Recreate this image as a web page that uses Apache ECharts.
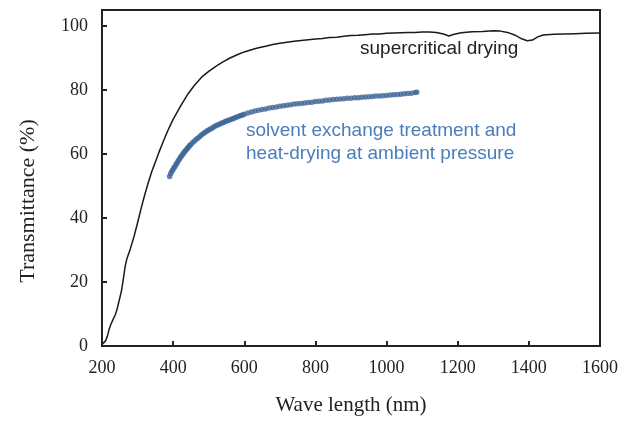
<!DOCTYPE html>
<html>
<head>
<meta charset="utf-8">
<script src="https://cdn.jsdelivr.net/npm/echarts@6/dist/echarts.min.js"></script>
<style>html,body{margin:0;padding:0;background:#fff}#c{width:631px;height:421px}</style>
</head>
<body>
<div id="c"></div>
<script>
var xTicks = [200, 400, 600, 800, 1000, 1200, 1400, 1600];
var yTicks = [0, 20, 40, 60, 80, 100];

var superWave = [200,205,210,215,220,225,230,237,242,246,250,255,260,265,270,280,290,300,310,320,330,340,350,360,370,380,390,400,420,440,460,480,500,520,540,560,580,600,620,640,660,680,700,720,740,760,780,800,820,840,860,880,900,920,940,960,980,1000,1020,1040,1060,1080,1100,1120,1140,1160,1175,1190,1210,1240,1270,1300,1320,1340,1360,1380,1395,1410,1425,1440,1470,1500,1530,1560,1600];
var superVals = [0.5,0.9,1.6,3.0,5.2,6.8,8.0,9.7,11.3,13.2,15.0,17.4,21.0,24.8,27.3,30.5,34.2,38.5,43.0,47.2,51.0,54.5,57.5,60.5,63.3,66.0,68.5,70.8,74.8,78.5,81.5,84.0,85.8,87.4,88.8,90.0,91.0,91.9,92.6,93.2,93.7,94.2,94.6,94.9,95.2,95.5,95.7,95.9,96.1,96.4,96.5,96.8,97.0,97.1,97.3,97.5,97.5,97.7,97.8,97.9,98.0,98.0,98.1,98.1,98.0,97.5,96.9,97.4,97.9,98.2,98.3,98.5,98.4,98.0,97.2,96.0,95.4,95.6,96.6,97.2,97.4,97.5,97.6,97.7,97.8];

var ambWave = [390,393,396,399,402,405,408,411,414,417,420,423,426,429,432,435,438,441,444,447,450,455,460,465,470,475,480,485,490,495,500,505,510,515,520,525,530,535,540,545,550,555,560,565,570,575,580,585,590,595,600,610,620,630,640,650,660,670,680,690,700,710,720,730,740,750,760,770,780,790,800,810,820,830,840,850,860,870,880,890,900,910,920,930,940,950,960,970,980,990,1000,1010,1020,1030,1040,1050,1060,1070,1080,1085];
var ambVals = [53.0,53.8,54.5,55.0,55.6,56.1,56.7,57.2,57.8,58.3,58.9,59.3,59.8,60.2,60.7,61.1,61.5,61.9,62.3,62.7,63.0,63.6,64.1,64.6,65.0,65.5,66.0,66.4,66.8,67.2,67.5,67.8,68.1,68.5,68.8,69.1,69.3,69.6,69.8,70.1,70.3,70.5,70.7,70.9,71.1,71.4,71.6,71.8,72.0,72.2,72.4,72.8,73.1,73.4,73.7,73.9,74.1,74.4,74.5,74.7,74.9,75.1,75.2,75.4,75.6,75.7,75.8,75.9,76.1,76.2,76.4,76.5,76.6,76.8,76.9,77.0,77.1,77.2,77.3,77.4,77.4,77.6,77.6,77.7,77.8,77.9,78.0,78.1,78.1,78.2,78.3,78.4,78.5,78.6,78.7,78.8,78.9,79.0,79.2,79.3];

function pairs(xs, ys) { return xs.map(function (x, i) { return [x, ys[i]]; }); }

var chart = echarts.init(document.getElementById('c'), null, {renderer: 'canvas'});
var serif = '"Liberation Serif", "Times New Roman", serif';
var sans = '"Liberation Sans", Arial, sans-serif';
chart.setOption({
  animation: false,
  backgroundColor: '#fff',
  grid: {left: 102, right: 31, top: 10, bottom: 75, show: true, borderColor: '#222', borderWidth: 2, backgroundColor: 'transparent'},
  xAxis: {
    type: 'value', min: 200, max: 1600, interval: 200,
    name: 'Wave length (nm)', nameLocation: 'middle', nameGap: 49,
    nameTextStyle: {fontFamily: serif, fontSize: 21, color: '#222'},
    axisLine: {show: true, lineStyle: {color: '#222', width: 2}},
    axisTick: {show: true, inside: true, length: 5, lineStyle: {color: '#222', width: 2}},
    axisLabel: {fontFamily: serif, fontSize: 18, color: '#222', margin: 13, customValues: xTicks,
      formatter: function (v) { return String(v); }},
    splitLine: {show: false}
  },
  yAxis: {
    type: 'value', min: 0, max: 105,
    axisLine: {show: true, lineStyle: {color: '#222', width: 2}},
    axisTick: {show: true, inside: true, length: 5, lineStyle: {color: '#222', width: 2}, customValues: yTicks},
    axisLabel: {fontFamily: serif, fontSize: 18, color: '#222', margin: 14, customValues: yTicks,
      formatter: function (v) { return String(v); }},
    splitLine: {show: false}
  },
  series: [
    {
      type: 'line', name: 'supercritical drying', data: pairs(superWave, superVals),
      showSymbol: false, symbol: 'none', smooth: false,
      lineStyle: {color: '#1a1a1a', width: 1.5}, z: 3
    },
    {
      type: 'scatter', name: 'ambient', data: pairs(ambWave, ambVals),
      symbol: 'circle', symbolSize: 5.5,
      itemStyle: {color: '#3e6698'}, z: 2
    }
  ],
  graphic: [
    {type: 'text', x: 28, y: 201, rotation: Math.PI / 2,
      style: {text: 'Transmittance (%)', font: '22px ' + serif, fill: '#222', align: 'center', verticalAlign: 'middle'}},
    {type: 'text', left: 360, top: 39, style: {text: 'supercritical drying', font: '19px ' + sans, fill: '#222'}},
    {type: 'text', left: 246, top: 119, style: {text: 'solvent exchange treatment and\nheat-drying at ambient pressure', font: '19px ' + sans, fill: '#4a7dbb', lineHeight: 23}}
  ]
});
</script>
</body>
</html>
